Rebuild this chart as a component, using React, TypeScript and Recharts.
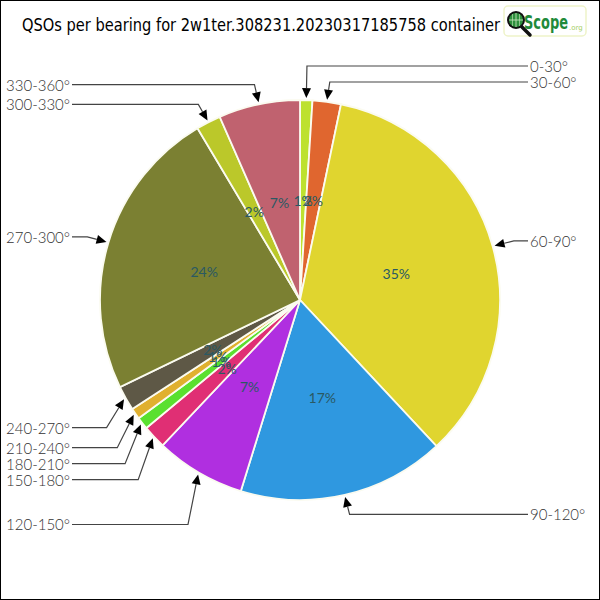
import React from 'react';
import { PieChart, Pie, Cell } from 'recharts';

const bearings = ['0-30°', '30-60°', '60-90°', '90-120°', '120-150°', '150-180°', '180-210°', '210-240°', '240-270°', '270-300°', '300-330°', '330-360°'];
const qsoCounts = [10, 23, 349, 168, 73, 19, 10, 9, 20, 237, 20, 66];
const sliceColors = ['#bde12f', '#e0662f', '#e0d52f', '#2f98e0', '#b02fe0', '#e02f74', '#5ae02f', '#e0b02f', '#5e5846', '#7b8032', '#bbc82a', '#c0626f'];
const chartTitle = 'QSOs per bearing for 2w1ter.308231.20230317185758 container';

const W = 600;
const H = 600;
const CX = 300;
const CY = 300;
const R = 200;
const GAP = 16;
const LABEL_FONT = 'Lato, "DejaVu Sans", sans-serif';

const tableData = bearings.map((b, i) => ({ name: b, value: qsoCounts[i] }));
const total = qsoCounts.reduce((a, b) => a + b, 0);

// label vertical layout derived from the data: push labels outward to avoid overlap
function computeLabelY(): number[] {
  let cum = 0;
  const items = qsoCounts.map((v, i) => {
    const mid = ((cum + v / 2) / total) * 360;
    cum += v;
    const rad = (mid * Math.PI) / 180;
    const c = Math.cos(rad);
    const right = mid < 180;
    const k = !right && c < 0 ? 60 : 20;
    return { i, right, upper: c > 0, y: CY - (R + k) * c };
  });
  const result: number[] = new Array(items.length).fill(0);
  [true, false].forEach((side) => {
    const upper = items.filter((it) => it.right === side && it.upper).sort((a, b) => b.y - a.y);
    let prev = Infinity;
    upper.forEach((it) => {
      const y = Math.min(it.y, prev - GAP);
      result[it.i] = y;
      prev = y;
    });
    const lower = items.filter((it) => it.right === side && !it.upper).sort((a, b) => a.y - b.y);
    prev = -Infinity;
    lower.forEach((it) => {
      const y = Math.max(it.y, prev + GAP);
      result[it.i] = y;
      prev = y;
    });
  });
  return result;
}

const labelYs = computeLabelY();

const renderLabel = (props: any) => {
  const { cx, cy, midAngle, outerRadius, percent, index } = props;
  const theta = ((90 - midAngle) * Math.PI) / 180; // clockwise from 12 o'clock
  const s = Math.sin(theta);
  const c = Math.cos(theta);
  const right = s >= 0;
  const px = cx + outerRadius * 0.5 * s;
  const py = cy - outerRadius * 0.5 * c;
  const tipX = cx + (outerRadius + 2) * s;
  const tipY = cy - (outerRadius + 2) * c;
  const ly = labelYs[index];
  const bendX = cx + (outerRadius + 22) * s;
  const textX = right ? 530 : 70;
  const lineStart = right ? 528 : 72;
  const dx = tipX - bendX;
  const dy = tipY - ly;
  const len = Math.sqrt(dx * dx + dy * dy) || 1;
  const ux = dx / len;
  const uy = dy / len;
  const aL = 10;
  const aW = 4.5;
  const baseX = tipX - ux * aL;
  const baseY = tipY - uy * aL;
  const arrow = `${tipX},${tipY} ${baseX - uy * aW},${baseY + ux * aW} ${baseX + uy * aW},${baseY - ux * aW}`;
  return (
    <g key={`lbl-${index}`}>
      <text x={px} y={py} textAnchor="middle" dominantBaseline="central" fill="#2a5963" fontSize={14} fontFamily={LABEL_FONT}>
        {`${Math.round(percent * 100)}%`}
      </text>
      <polyline points={`${lineStart},${ly} ${bendX},${ly} ${baseX},${baseY}`} fill="none" stroke="#444" strokeWidth={1.2} />
      <polygon points={arrow} fill="#000" />
      <text x={textX} y={ly} textAnchor={right ? 'start' : 'end'} dominantBaseline="central" fill="#333" fontSize={15} fontFamily={LABEL_FONT} fontWeight={300}>
        {bearings[index]}
      </text>
    </g>
  );
};

const Logo = () => (
  <svg width={90} height={34} style={{ position: 'absolute', left: 502, top: 4 }}>
    <rect x={1} y={1} width={82} height={30} rx={4} fill="#fff" stroke="#eef3c9" strokeWidth={1.5} />
    <line x1={17} y1={20} x2={27} y2={30} stroke="#111" strokeWidth={3.5} strokeLinecap="round" />
    <circle cx={13} cy={15} r={9} fill="#111" />
    <circle cx={13} cy={15} r={7} fill="#2d8f3c" />
    <line x1={13} y1={8} x2={13} y2={22} stroke="#cfe9c5" strokeWidth={0.8} />
    <line x1={6} y1={15} x2={20} y2={15} stroke="#cfe9c5" strokeWidth={0.8} />
    <line x1={9.5} y1={9} x2={9.5} y2={21} stroke="#cfe9c5" strokeWidth={0.6} />
    <line x1={16.5} y1={9} x2={16.5} y2={21} stroke="#cfe9c5" strokeWidth={0.6} />
    <text transform="translate(21,24) scale(0.72,1)" x={0} y={0} fill="#1f8a3a" fontSize={20} fontWeight={700} fontFamily="'DejaVu Sans Condensed', 'DejaVu Sans', sans-serif">Scope</text>
    <text x={66} y={25} fill="#a7d06a" fontSize={7} fontFamily="'DejaVu Sans', sans-serif">.org</text>
  </svg>
);

export default function App() {
  return (
    <div style={{ position: 'absolute', left: 0, top: 0, width: W, height: H, background: '#fff', boxSizing: 'border-box', border: '1px solid #000', overflow: 'hidden' }}>
      <svg width={W} height={40} style={{ position: 'absolute', left: -1, top: -1 }}>
        <text x={22} y={31} fill="#000" fontSize={17} fontFamily="'DejaVu Sans', sans-serif" textLength={478} lengthAdjust="spacingAndGlyphs">
          {chartTitle}
        </text>
      </svg>
      <Logo />
      <div style={{ position: 'absolute', left: -1, top: -1 }}>
        <PieChart width={W} height={H} margin={{ top: 0, right: 0, bottom: 0, left: 0 }}>
          <Pie
            data={tableData}
            dataKey="value"
            nameKey="name"
            cx={CX}
            cy={CY}
            outerRadius={R}
            innerRadius={0}
            startAngle={90}
            endAngle={-270}
            stroke="#fbfbf0"
            strokeWidth={1.8}
            isAnimationActive={false}
            label={renderLabel}
            labelLine={false}
          >
            {tableData.map((d, i) => (
              <Cell key={d.name} fill={sliceColors[i]} />
            ))}
          </Pie>
        </PieChart>
      </div>
    </div>
  );
}
